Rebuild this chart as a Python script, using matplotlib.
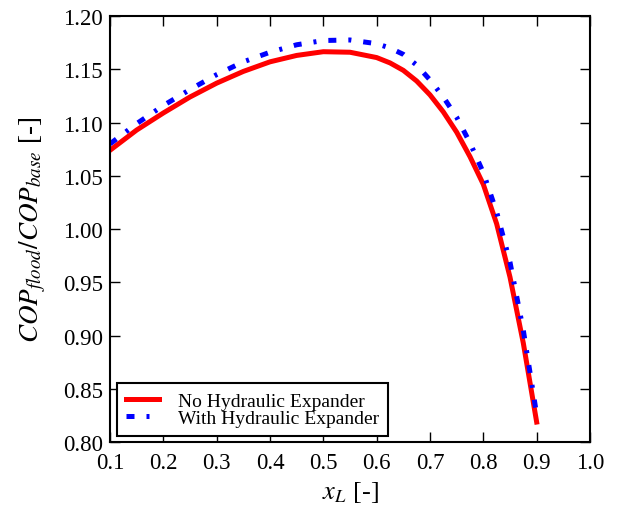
import matplotlib
matplotlib.use("Agg")
import matplotlib.pyplot as plt

x_red = [0.10, 0.15, 0.20, 0.25, 0.30, 0.35, 0.40, 0.45, 0.50, 0.55, 0.60, 0.625,
         0.65, 0.675, 0.70, 0.725, 0.75, 0.775, 0.80, 0.825, 0.85, 0.875, 0.90]
no_expander = [1.074, 1.093, 1.109, 1.124, 1.137, 1.148, 1.157, 1.163, 1.1665,
               1.166, 1.161, 1.156, 1.149, 1.139, 1.126, 1.110, 1.091, 1.068,
               1.042, 1.005, 0.955, 0.893, 0.819]
x_blue = [0.10, 0.15, 0.20, 0.25, 0.30, 0.35, 0.40, 0.45, 0.50, 0.55, 0.60, 0.625,
          0.65, 0.675, 0.70, 0.725, 0.75, 0.775, 0.80, 0.825, 0.85, 0.875, 0.90]
with_expander = [1.080, 1.099, 1.116, 1.131, 1.145, 1.157, 1.166, 1.173, 1.177,
                 1.1775, 1.174, 1.170, 1.164, 1.154, 1.140, 1.124, 1.105, 1.081,
                 1.053, 1.016, 0.969, 0.905, 0.826]
xticks = [0.1, 0.2, 0.3, 0.4, 0.5, 0.6, 0.7, 0.8, 0.9, 1.0]
yticks = [0.80, 0.85, 0.90, 0.95, 1.00, 1.05, 1.10, 1.15, 1.20]

plt.rcParams['font.family'] = ['Liberation Serif', 'DejaVu Serif']
plt.rcParams['mathtext.fontset'] = 'stix'

fig = plt.figure(figsize=(6.2, 5.06), dpi=100)
ax = fig.add_axes([0.1774, 0.1239, 0.7742, 0.8425])

ax.plot(x_red, no_expander, color='red', lw=3.6, label='No Hydraulic Expander',
        solid_joinstyle='round')
ax.plot(x_blue, with_expander, color='blue', lw=3.6, dashes=[1.6, 2.4, 0.6, 2.4],
        dash_capstyle='butt', label='With Hydraulic Expander')

ax.set_xlim(0.1, 1.0)
ax.set_ylim(0.80, 1.20)
ax.set_xticks(xticks)
ax.set_yticks(yticks)
ax.set_xticklabels([f"{v:.1f}" for v in xticks])
ax.set_yticklabels([f"{v:.2f}" for v in yticks])
ax.tick_params(direction='in', top=True, right=True, length=7, width=1, labelsize=16.5)
ax.tick_params(axis='x', pad=7)
ax.tick_params(axis='y', pad=5)
for s in ax.spines.values():
    s.set_linewidth(1.5)

ax.set_xlabel(r'$x_L$ [-]', fontsize=19, labelpad=4)
ax.set_ylabel(r'$COP_{flood}/COP_{base}$ [-]', fontsize=19.5, labelpad=11)

leg = ax.legend(loc='lower left', fontsize=14, handlelength=1.7, handletextpad=1.0,
                fancybox=False, edgecolor='black', framealpha=1, borderpad=0.45,
                labelspacing=0.0, borderaxespad=0.0,
                bbox_to_anchor=(0.015, 0.015))
leg.get_frame().set_linewidth(1.5)

fig.savefig('out.png', dpi=100)
